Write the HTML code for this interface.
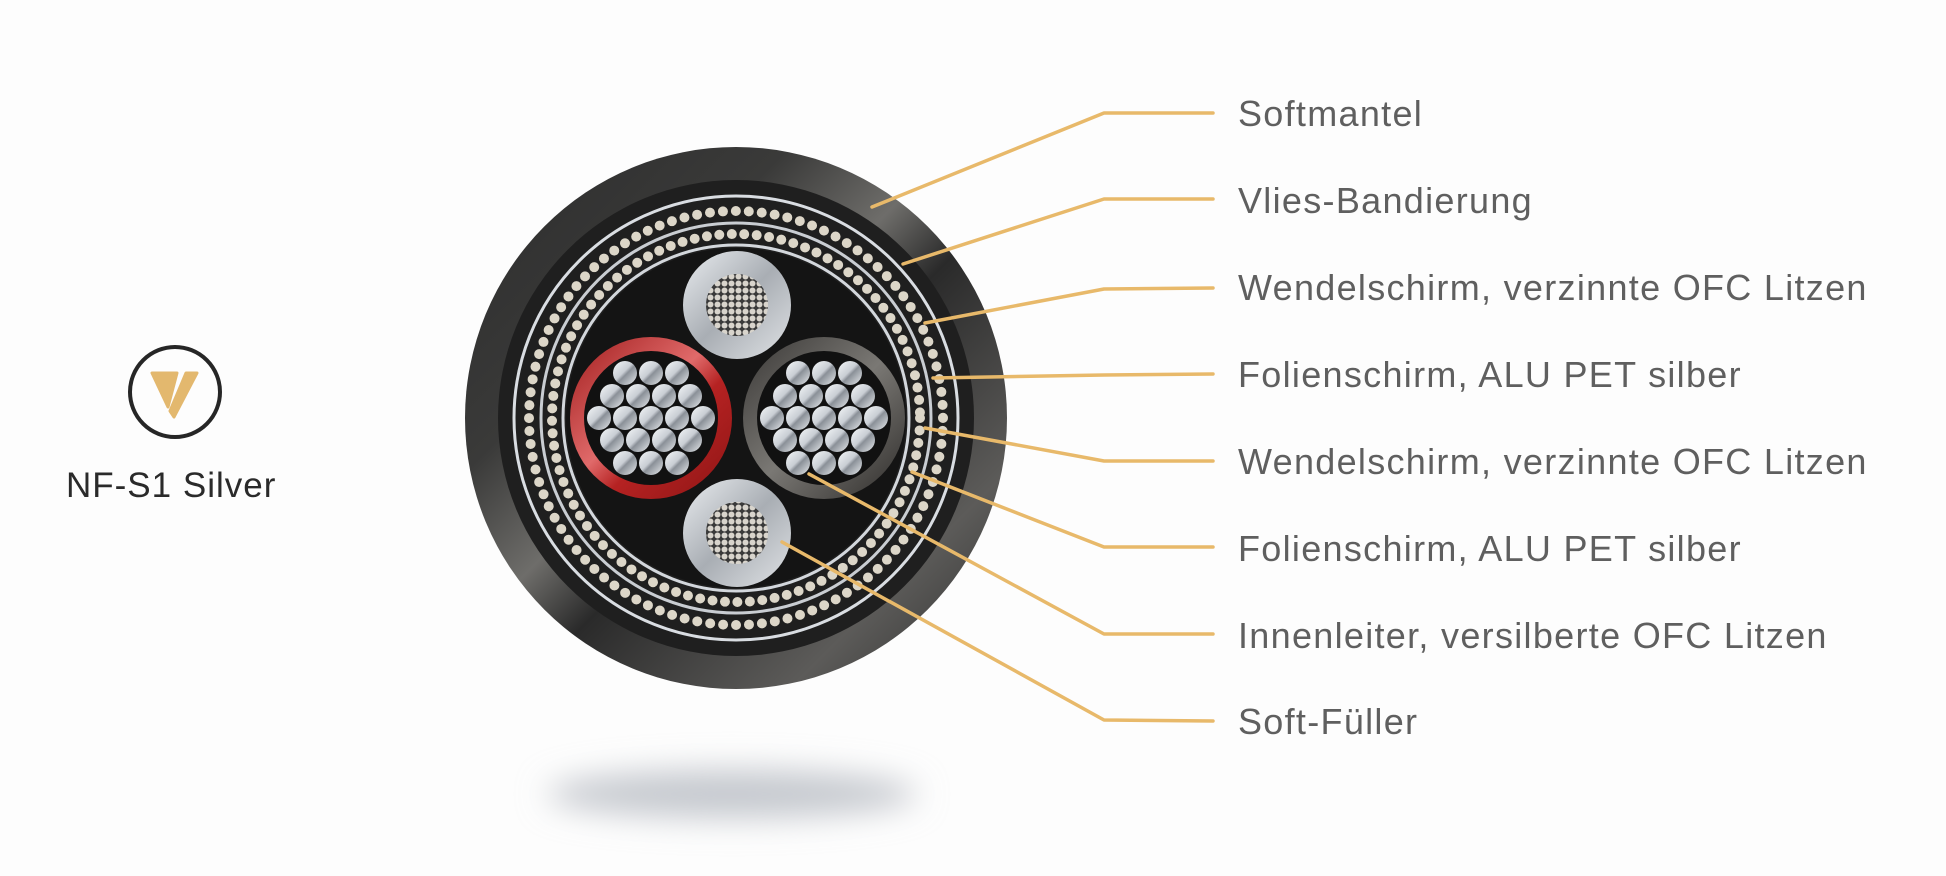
<!DOCTYPE html>
<html><head><meta charset="utf-8"><style>
html,body{margin:0;padding:0;background:#fdfdfd;}
svg{display:block}
text{font-family:"Liberation Sans",sans-serif;}
</style></head><body>
<svg width="1946" height="876" viewBox="0 0 1946 876" xmlns="http://www.w3.org/2000/svg">
<defs>
<linearGradient id="jk" x1="0" y1="0" x2="1" y2="1">
<stop offset="0" stop-color="#2c2c2c"/><stop offset="0.3" stop-color="#3a3a39"/>
<stop offset="0.45" stop-color="#6e6d6a"/><stop offset="0.55" stop-color="#2a2a2a"/>
<stop offset="0.8" stop-color="#5c5b59"/><stop offset="1" stop-color="#2a2a2a"/>
</linearGradient>
<linearGradient id="st" x1="0" y1="0" x2="1" y2="1">
<stop offset="0" stop-color="#f4f6f8"/><stop offset="0.45" stop-color="#c9ced4"/><stop offset="0.55" stop-color="#8a9098"/><stop offset="1" stop-color="#e8ebee"/>
</linearGradient>
<linearGradient id="sv" x1="0" y1="0" x2="1" y2="1">
<stop offset="0" stop-color="#e9ecef"/><stop offset="0.5" stop-color="#a9aeb4"/><stop offset="1" stop-color="#dfe2e5"/>
</linearGradient>
<linearGradient id="rd" x1="0" y1="0" x2="1" y2="1">
<stop offset="0" stop-color="#a11d1d"/><stop offset="0.45" stop-color="#e06a6a"/><stop offset="0.6" stop-color="#b52222"/><stop offset="1" stop-color="#8e1515"/>
</linearGradient>
<linearGradient id="dk" x1="0" y1="0" x2="1" y2="1">
<stop offset="0" stop-color="#3a3836"/><stop offset="0.5" stop-color="#7a7874"/><stop offset="1" stop-color="#2e2c2a"/>
</linearGradient>
<pattern id="dots" x="0" y="0" width="7" height="7" patternUnits="userSpaceOnUse">
<rect width="7" height="7" fill="#3a3a3a"/><circle cx="3.5" cy="3.5" r="3" fill="#d8d4cc"/>
</pattern>
<filter id="blur" x="-50%" y="-200%" width="200%" height="500%"><feGaussianBlur stdDeviation="16"/></filter>
<g id="big">
<circle cx="-26" cy="-45" r="12" fill="url(#st)"/><circle cx="0" cy="-45" r="12" fill="url(#st)"/><circle cx="26" cy="-45" r="12" fill="url(#st)"/>
<circle cx="-39" cy="-22" r="12" fill="url(#st)"/><circle cx="-13" cy="-22" r="12" fill="url(#st)"/><circle cx="13" cy="-22" r="12" fill="url(#st)"/><circle cx="39" cy="-22" r="12" fill="url(#st)"/>
<circle cx="-52" cy="0" r="12" fill="url(#st)"/><circle cx="-26" cy="0" r="12" fill="url(#st)"/><circle cx="0" cy="0" r="12" fill="url(#st)"/><circle cx="26" cy="0" r="12" fill="url(#st)"/><circle cx="52" cy="0" r="12" fill="url(#st)"/>
<circle cx="-39" cy="22" r="12" fill="url(#st)"/><circle cx="-13" cy="22" r="12" fill="url(#st)"/><circle cx="13" cy="22" r="12" fill="url(#st)"/><circle cx="39" cy="22" r="12" fill="url(#st)"/>
<circle cx="-26" cy="45" r="12" fill="url(#st)"/><circle cx="0" cy="45" r="12" fill="url(#st)"/><circle cx="26" cy="45" r="12" fill="url(#st)"/>
</g>
</defs>
<rect width="1946" height="876" fill="#fdfdfd"/>
<ellipse cx="732" cy="794" rx="185" ry="24" fill="#c4c8ce" filter="url(#blur)"/>

<!-- cable -->
<circle cx="736" cy="418" r="271" fill="url(#jk)"/>
<circle cx="736" cy="418" r="238" fill="#1f1f1f"/>
<circle cx="736" cy="418" r="222" fill="none" stroke="#d9dde2" stroke-width="3"/>
<circle cx="736" cy="418" r="207" fill="none" stroke="#dcd6c8" stroke-width="10" stroke-linecap="round" stroke-dasharray="0 13"/>
<circle cx="736" cy="418" r="195" fill="none" stroke="#c9cdd2" stroke-width="3"/>
<circle cx="736" cy="418" r="184" fill="none" stroke="#dcd6c8" stroke-width="10" stroke-linecap="round" stroke-dasharray="0 12.5"/>
<circle cx="736" cy="418" r="173" fill="none" stroke="#d3d7dc" stroke-width="3"/>
<circle cx="736" cy="418" r="170" fill="#141414"/>

<circle cx="737" cy="305" r="54" fill="url(#sv)"/>
<circle cx="737" cy="305" r="31" fill="url(#dots)"/>
<circle cx="737" cy="533" r="54" fill="url(#sv)"/>
<circle cx="737" cy="533" r="31" fill="url(#dots)"/>

<circle cx="651" cy="418" r="81" fill="url(#rd)"/>
<circle cx="651" cy="418" r="67" fill="#111"/>
<use href="#big" x="651" y="418"/>
<circle cx="824" cy="418" r="81" fill="url(#dk)"/>
<circle cx="824" cy="418" r="67" fill="#111"/>
<use href="#big" x="824" y="418"/>

<!-- leaders -->
<g fill="none" stroke="#e8b96a" stroke-width="3.5" stroke-linecap="round" stroke-linejoin="round">
<polyline points="872,207 1104,113 1213,113"/>
<polyline points="903,264 1104,199 1213,199"/>
<polyline points="925,323 1104,289 1213,288"/>
<polyline points="933,378 1104,375 1213,374"/>
<polyline points="925,428 1104,461 1213,461"/>
<polyline points="912,472 1104,547 1213,547"/>
<polyline points="809,474 1104,634 1213,634"/>
<polyline points="782,542 1104,720 1213,721"/>
</g>
<g fill="#5f5f5f" font-size="36" letter-spacing="1.3">
<text x="1238" y="126">Softmantel</text>
<text x="1238" y="213">Vlies-Bandierung</text>
<text x="1238" y="300">Wendelschirm, verzinnte OFC Litzen</text>
<text x="1238" y="387">Folienschirm, ALU PET silber</text>
<text x="1238" y="474">Wendelschirm, verzinnte OFC Litzen</text>
<text x="1238" y="561">Folienschirm, ALU PET silber</text>
<text x="1238" y="648">Innenleiter, versilberte OFC Litzen</text>
<text x="1238" y="734">Soft-Füller</text>
</g>

<!-- logo -->
<circle cx="175" cy="392" r="45" fill="none" stroke="#262626" stroke-width="4"/>
<path d="M152,373 L177,373 L168,407 Z" fill="#e3b86e" stroke="#e3b86e" stroke-width="3" stroke-linejoin="round"/>
<path d="M186,373 L197,373 L174,417 L170,411 Z" fill="#e3b86e" stroke="#e3b86e" stroke-width="3" stroke-linejoin="round"/>
<text x="66" y="497" font-size="35" fill="#2a2a2a" letter-spacing="1">NF-S1 Silver</text>
</svg>
</body></html>
